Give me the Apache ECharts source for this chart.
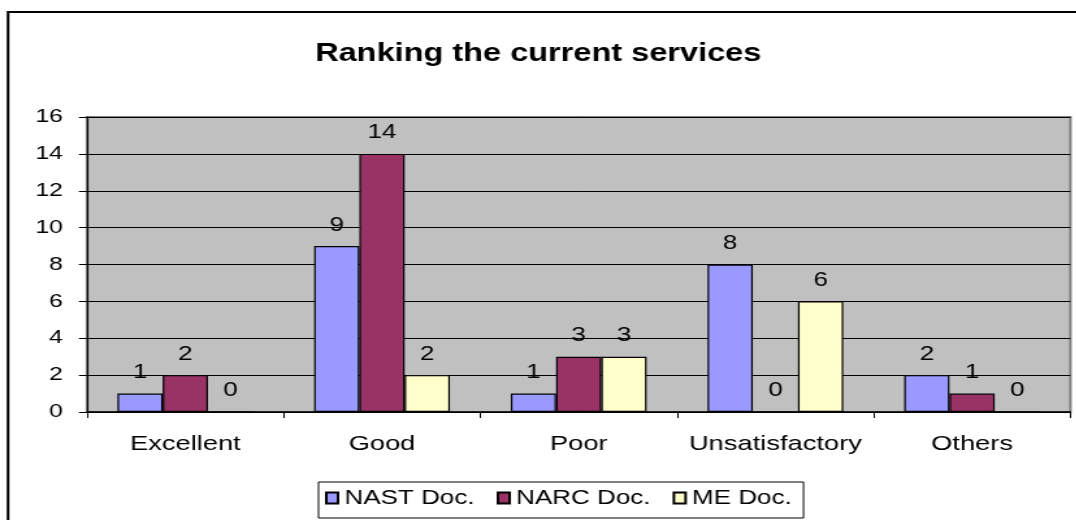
<!DOCTYPE html>
<html>
<head>
    <meta charset="utf-8">
    <title>Ranking the current services</title>
    <script src="https://cdn.jsdelivr.net/npm/echarts@6/dist/echarts.min.js"></script>
</head>
<body style="margin:0;overflow:hidden">
    <!-- the original picture is stretched sideways, so the chart is drawn narrower and scaled in x -->
    <div id="main" style="width: 828px;height:520px;transform:scaleX(1.3);transform-origin:0 0;"></div>
    <script type="text/javascript">
        // data
        var categories = ['Excellent', 'Good', 'Poor', 'Unsatisfactory', 'Others']
        var nastDoc = [1, 9, 1, 8, 2]
        var narcDoc = [2, 14, 3, 0, 1]
        var meDoc = [0, 2, 3, 6, 0]
        var yTicks = [0, 2, 4, 6, 8, 10, 12, 14, 16]

        var font = "'Liberation Sans', Arial, sans-serif"

        var makeSeries = function (name, data, color) {
            return {
                name: name,
                type: 'bar',
                data: data,
                barGap: 0,
                barCategoryGap: '31%',
                itemStyle: {
                    color: color,
                    borderColor: '#000',
                    borderWidth: 1.2
                },
                label: {
                    show: true,
                    position: 'top',
                    distance: 11,
                    color: '#000',
                    fontSize: 20,
                    fontFamily: font
                }
            }
        }

        var chart = echarts.init(document.getElementById('main'))
        var option = {
            animation: false,
            backgroundColor: '#fff',
            title: {
                text: 'Ranking the current services',
                left: 'center',
                top: 37,
                textStyle: {
                    fontSize: 25,
                    fontWeight: 'bold',
                    color: '#000',
                    fontFamily: font
                }
            },
            graphic: [{
                type: 'rect',
                shape: { x: 6.2, y: 12, width: 1200, height: 700 },
                style: { fill: 'none', stroke: '#000', lineWidth: 2 },
                silent: true
            }],
            legend: {
                left: 245,
                top: 482,
                icon: 'rect',
                itemWidth: 9,
                itemHeight: 11,
                itemGap: 17,
                padding: [6, 9, 10, 5],
                borderColor: '#000',
                borderWidth: 1,
                textStyle: {
                    fontSize: 20,
                    color: '#000',
                    fontFamily: font
                }
            },
            grid: {
                left: 66.9,
                right: 4.6,
                top: 117,
                bottom: 108,
                show: true,
                backgroundColor: '#C0C0C0',
                borderColor: '#808080',
                borderWidth: 2
            },
            xAxis: {
                type: 'category',
                data: categories,
                axisLine: { lineStyle: { color: '#000', width: 1.5 } },
                axisTick: { show: true, interval: 0, length: 6, lineStyle: { color: '#000' } },
                axisLabel: {
                    interval: 0,
                    margin: 22,
                    fontSize: 21,
                    color: '#000',
                    fontFamily: font
                }
            },
            yAxis: {
                type: 'value',
                min: yTicks[0],
                max: yTicks[yTicks.length - 1],
                interval: yTicks[1] - yTicks[0],
                axisLine: { show: true, lineStyle: { color: '#000', width: 1.2 } },
                axisTick: { show: true, length: 6.2, lineStyle: { color: '#000' } },
                axisLabel: {
                    margin: 18.5,
                    fontSize: 19,
                    color: '#000',
                    fontFamily: font
                },
                splitLine: { lineStyle: { color: '#000', width: 1 } }
            },
            series: [
                makeSeries('NAST Doc.', nastDoc, '#9999FF'),
                makeSeries('NARC Doc.', narcDoc, '#993366'),
                makeSeries('ME Doc.', meDoc, '#FFFFCC')
            ]
        }
        chart.setOption(option)
    </script>
</body>
</html>
